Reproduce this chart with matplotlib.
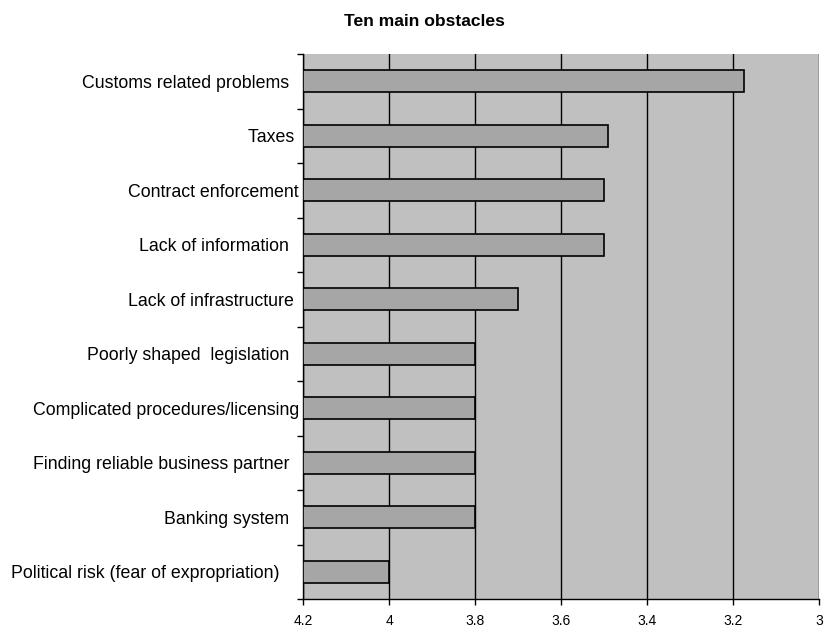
import matplotlib
matplotlib.use("Agg")
import matplotlib.pyplot as plt
import numpy as np

plt.rcParams['font.family'] = ['Liberation Sans', 'DejaVu Sans']

obstacles = [
    "Customs related problems  ",
    "Taxes ",
    "Contract enforcement",
    "Lack of information  ",
    "Lack of infrastructure ",
    "Poorly shaped  legislation  ",
    "Complicated procedures/licensing",
    "Finding reliable business partner  ",
    "Banking system  ",
    "Political risk (fear of expropriation)    ",
]
scores = [3.175, 3.49, 3.5, 3.5, 3.7, 3.8, 3.8, 3.8, 3.8, 4.0]
x_ticks = [4.2, 4.0, 3.8, 3.6, 3.4, 3.2, 3.0]
x_tick_labels = ["4.2", "4", "3.8", "3.6", "3.4", "3.2", "3"]
baseline = 4.2

fig = plt.figure(figsize=(8.25, 6.25), dpi=100)
ax = fig.add_axes([303 / 825, 1 - 599 / 625, 516 / 825, 545 / 625])
ax.set_facecolor("#c0c0c0")

n = len(obstacles)
ypos = np.arange(n)
widths = [baseline - s for s in scores]
ax.barh(ypos, [-w for w in widths], left=baseline, height=0.4,
        color="#a6a6a6", edgecolor="black", linewidth=1.2, zorder=3)

ax.set_xlim(4.2, 3.0)
ax.set_ylim(n - 0.5, -0.5)

ax.set_xticks(x_ticks)
ax.set_xticklabels(x_tick_labels, fontsize=10)
ax.tick_params(axis="x", direction="out", length=4, width=1, pad=7)
ax.xaxis.grid(True, color="black", linewidth=1)
ax.set_axisbelow(True)

ax.set_yticks(ypos)
ax.set_yticklabels(obstacles, fontsize=12.8)
ax.tick_params(axis="y", which="major", length=0, pad=3)
ax.set_yticks(np.arange(n + 1) - 0.5, minor=True)
ax.tick_params(axis="y", which="minor", direction="out", length=4, width=1)

for side in ("top", "right"):
    ax.spines[side].set_visible(False)
for side in ("left", "bottom"):
    ax.spines[side].set_color("black")
    ax.spines[side].set_linewidth(1)

fig.text(424 / 825, 1 - 22 / 625, "Ten main obstacles", ha="center", va="center",
         fontsize=12.6, fontweight="bold")

fig.savefig("out.png", dpi=100)
